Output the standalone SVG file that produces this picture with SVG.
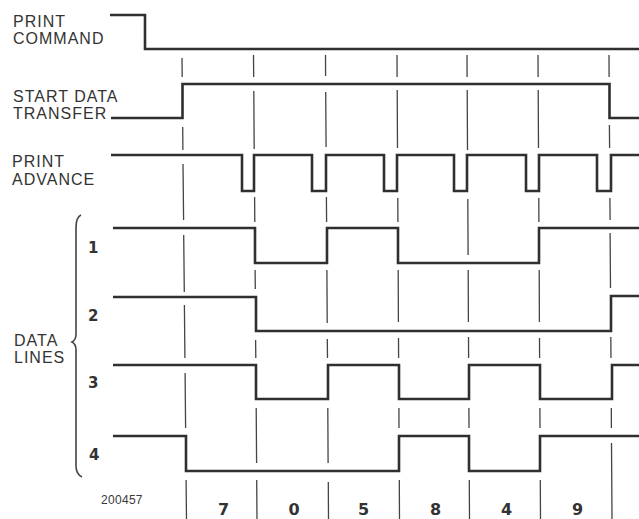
<svg xmlns="http://www.w3.org/2000/svg" width="639" height="519" viewBox="0 0 639 519">
<style>
.sig{fill:none;stroke:#2f2f2f;stroke-width:2.6;stroke-linejoin:miter;stroke-linecap:butt}
.grid{fill:none;stroke:#444;stroke-width:1.3}
.lbl{font-family:"Liberation Sans",Arial,sans-serif;font-size:16px;letter-spacing:1px;fill:#333}
.num{font-family:"DejaVu Sans",sans-serif;font-weight:bold;font-size:15px;fill:#333}
.big{font-family:"DejaVu Sans",sans-serif;font-weight:bold;font-size:16px;fill:#333;text-anchor:middle}
.small{font-family:"Liberation Sans",Arial,sans-serif;font-size:12px;letter-spacing:0.3px;fill:#3a3a3a}
.brace{fill:none;stroke:#444;stroke-width:1.6}
</style>
<rect width="639" height="519" fill="#fff"/>

<g id="gridlines">
<path class="grid" d="M182,58L182.2,77M182.7,127L182.9,150M183,164L183.6,220M183.7,235L184.3,292M184.4,305L184.9,358M185.1,373L185.6,428M186.1,480L186.5,519"/>
<path class="grid" d="M253.5,55L253.7,77M253.8,91L254.2,149M254.6,197L254.8,222M255.1,270L255.3,289M255.6,340L255.8,358M256.2,408L256.6,463M256.7,480L257,519"/>
<path class="grid" d="M325.5,55L325.6,76M325.7,92L326.1,147M326.4,197L326.6,222M326.9,270L327.2,323M327.3,339L327.5,358M327.8,408L328.1,463M328.3,482L328.5,519"/>
<path class="grid" d="M397,55L397.1,77M397.2,90L397.5,148M397.8,198L397.9,222M398.2,270L398.4,322M398.5,338L398.6,358M398.9,408L399,428M399.3,480L399.5,519"/>
<path class="grid" d="M467,55L467.1,77M467.2,90L467.5,150M467.8,199L468.1,255M468.2,270L468.4,322M468.5,337L468.6,358M468.9,408L469,428M469.3,480L469.5,519"/>
<path class="grid" d="M538,55L538.1,77M538.2,90L538.5,148M538.8,198L538.9,222M539.2,270L539.4,322M539.5,338L539.6,358M539.9,408L540,428M540.3,480L540.5,519"/>
<path class="grid" d="M609,55L609.1,77M609.4,125L609.6,148M609.9,198L610.1,220M610.1,233L610.5,288M610.8,337L611,358M611.3,408L611.4,428M611.5,443L612,519"/>
</g>

<g id="print-command">
<text class="lbl" x="13" y="27">PRINT</text>
<text class="lbl" x="13" y="44">COMMAND</text>
<path class="sig" d="M110,15H145V49H639"/>
</g>

<g id="start-data-transfer">
<text class="lbl" x="13" y="102">START DATA</text>
<text class="lbl" x="13" y="119">TRANSFER</text>
<path class="sig" d="M111,118H182.5V84H609.5V118H639"/>
</g>

<g id="print-advance">
<text class="lbl" x="12" y="167">PRINT</text>
<text class="lbl" x="12" y="185">ADVANCE</text>
<path class="sig" d="M111,155H242V191H254V155H312V191H326V155H384V191H397V155H454V191H467V155H526V191H539V155H597V191H611V155H639"/>
</g>

<g id="data-lines-label">
<text class="lbl" x="14" y="346">DATA</text>
<text class="lbl" x="14" y="363">LINES</text>
<path class="brace" d="M81,215Q76,217 76,228L76,334Q76,340 72,342Q76,344 76,350L76,466Q76,474 82,477"/>
</g>

<g id="data-line-1">
<text class="num" x="88" y="253">1</text>
<path class="sig" d="M113,228H255V263H327V228H398V263H539V228H639"/>
</g>

<g id="data-line-2">
<text class="num" x="88" y="321">2</text>
<path class="sig" d="M113,297H256V331H611V296H639"/>
</g>

<g id="data-line-3">
<text class="num" x="88" y="388">3</text>
<path class="sig" d="M113,365H256V399H328V365H399V399H469V365H540V399H612V365H639"/>
</g>

<g id="data-line-4">
<text class="num" x="89" y="460">4</text>
<path class="sig" d="M113,436H186V471H399V436H469V471H540V436H639"/>
</g>

<g id="figure-number">
<text class="small" x="101" y="504">200457</text>
</g>

<g id="characters">
<text class="big" x="223.5" y="515">7</text>
<text class="big" x="294" y="515">0</text>
<text class="big" x="363.5" y="515">5</text>
<text class="big" x="435.5" y="515">8</text>
<text class="big" x="506.5" y="515">4</text>
<text class="big" x="577.5" y="515">9</text>
</g>
</svg>
